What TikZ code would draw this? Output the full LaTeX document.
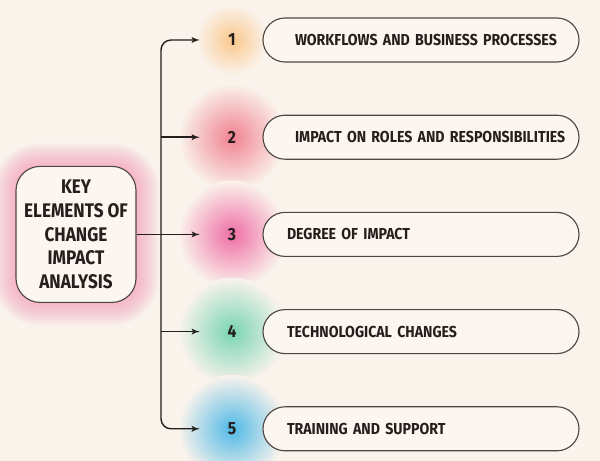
\documentclass[tikz,border=0pt]{standalone}
\usepackage{fontspec}
\newfontfamily\capsfont[FakeStretch=0.89]{Fira Sans}
\newfontfamily\keyfont[FakeStretch=0.87]{Fira Sans}
\usetikzlibrary{arrows,backgrounds,calc}
\definecolor{bgcol}{RGB}{250,243,236}
\definecolor{boxfill}{RGB}{251,246,240}
\definecolor{inkcol}{RGB}{36,30,28}
\definecolor{edgecol}{RGB}{78,70,66}
\definecolor{glowkey}{RGB}{245,140,180}
\definecolor{glowA}{RGB}{250,200,140}
\definecolor{glowB}{RGB}{240,130,145}
\definecolor{glowC}{RGB}{238,110,165}
\definecolor{glowD}{RGB}{120,212,180}
\definecolor{glowE}{RGB}{80,185,230}
\tikzset{
    keybox/.style = {draw=edgecol, line width=0.8pt, fill=boxfill, rectangle,
        rounded corners=0.6cm, minimum width=3cm, minimum height=3.4cm,
        align=center, text=inkcol,
        font=\keyfont\bfseries\fontsize{14}{17}\selectfont},
    num/.style = {circle, minimum size=1.6cm, inner sep=0pt, text=inkcol,
        font=\capsfont\bfseries\fontsize{12.5}{14}\selectfont},
    pill/.style = {draw=edgecol, line width=0.8pt, fill=boxfill, rectangle,
        rounded corners=0.55cm, minimum height=1.1cm, text width=6.7cm,
        inner xsep=0.6cm, align=left, text=inkcol,
        font=\capsfont\bfseries\fontsize{11.3}{13}\selectfont},
    junction/.style = {coordinate},
    arrow/.style = {draw=inkcol, line width=1pt, ->}
}

\begin{document}
\begin{tikzpicture}[auto, node distance=2.43cm, >=latex']
        \useasboundingbox (0,0) rectangle (15,-11.525);
        \node [num] (n1) at (5.8,-1.0) {1};
        \node [num, below of=n1] (n2) {2};
        \node [num, below of=n2] (n3) {3};
        \node [num, below of=n3] (n4) {4};
        \node [num, below of=n4] (n5) {5};
        \node [keybox, left of=n3, node distance=3.9cm] (key) {KEY\\ELEMENTS OF\\CHANGE\\IMPACT\\ANALYSIS};
        \node [junction, right of=key, node distance=2.125cm] (trunk) {};
        \node [pill, right of=n1, node distance=4.725cm, text width=6.3cm, inner xsep=0.8cm] (p1) {\mbox{WORKFLOWS AND BUSINESS PROCESSES}};
        \node [pill, right of=n2, node distance=4.725cm, text width=6.3cm, inner xsep=0.8cm] (p2) {\mbox{IMPACT ON ROLES AND RESPONSIBILITIES}};
        \node [pill, right of=n3, node distance=4.725cm] (p3) {DEGREE OF IMPACT};
        \node [pill, right of=n4, node distance=4.725cm] (p4) {TECHNOLOGICAL CHANGES};
        \node [pill, right of=n5, node distance=4.725cm] (p5) {TRAINING AND SUPPORT};
        \draw [arrow, rounded corners=0.25cm] (trunk) |- (n1.west);
        \draw [arrow, rounded corners=0.25cm] (trunk) |- (n5.west);
        \draw [arrow] (trunk |- n2) -- (n2.west);
        \draw [arrow] (trunk |- n4) -- (n4.west);
        \draw [arrow] (key.east) -- (n3.west);
        % glows behind the boxes and numbers
        \begin{scope}[on background layer]
            \fill [bgcol] (0,0) rectangle (15,-11.525);
            \foreach \k [evaluate=\k as \d using 0.04*\k, evaluate=\k as \r using 0.6+0.04*\k] in {1,...,14}
                \fill [glowkey, opacity=0.05, rounded corners=\r cm] ($(key.south west)+(-\d,-\d)$) rectangle ($(key.north east)+(\d,\d)$);
            \shade [inner color=glowA, outer color=bgcol] (n1) circle (0.9cm);
            \shade [inner color=glowB, outer color=bgcol] (n2) circle (1.35cm);
            \shade [inner color=glowC, outer color=bgcol] (n3) circle (1.35cm);
            \shade [inner color=glowD, outer color=bgcol] (n4) circle (1.35cm);
            \shade [inner color=glowE, outer color=bgcol] (n5) circle (1.35cm);
        \end{scope}
\end{tikzpicture}
\end{document}
